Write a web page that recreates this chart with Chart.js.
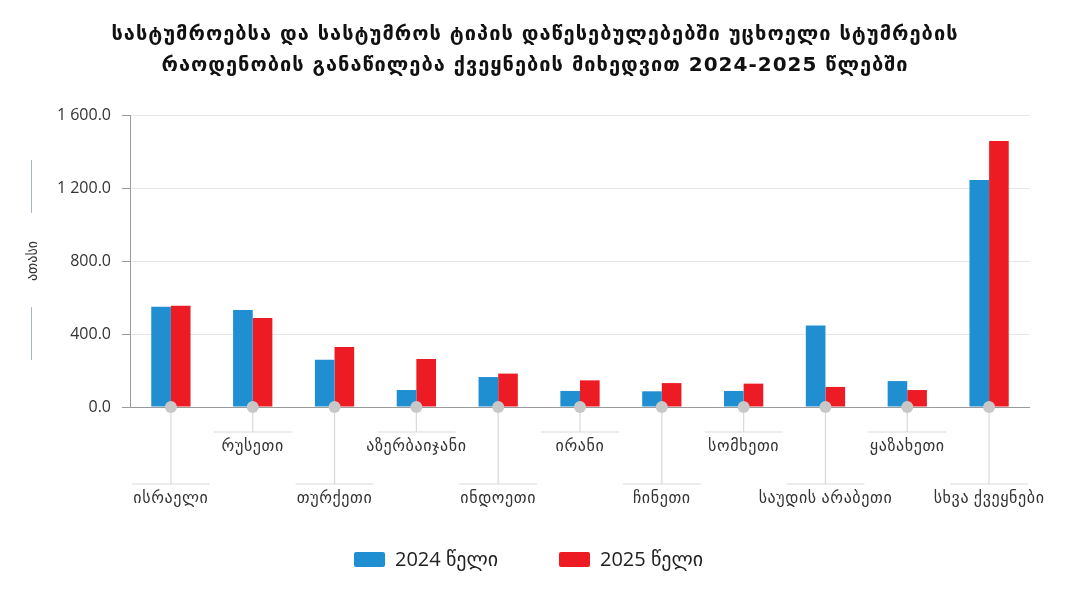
<!DOCTYPE html>
<html>
<head>
<meta charset="utf-8">
<script src="https://cdn.jsdelivr.net/npm/chart.js@4.4.1/dist/chart.umd.min.js"></script>
<style>
html,body{margin:0;padding:0;background:#fff;}
#wrap{width:1074px;height:590px;position:relative;}
</style>
</head>
<body>
<div id="wrap"><canvas id="c"></canvas></div>
<script>
const categories = ['ისრაელი','რუსეთი','თურქეთი','აზერბაიჯანი','ინდოეთი','ირანი','ჩინეთი','სომხეთი','საუდის არაბეთი','ყაზახეთი','სხვა ქვეყნები'];
const values2024 = [550, 531, 259, 93, 164, 88, 86, 88, 446, 142, 1244];
const values2025 = [555, 488, 329, 263, 183, 146, 131, 128, 110, 93, 1458];
const seriesNames = ['2024 წელი', '2025 წელი'];
const seriesColors = ['#1f8fd1', '#ed1c24'];
const titleLines = ['სასტუმროებსა და სასტუმროს ტიპის დაწესებულებებში უცხოელი სტუმრების', 'რაოდენობის განაწილება ქვეყნების მიხედვით 2024-2025 წლებში'];
const yTitle = 'ათასი';
const yTicks = [0, 400, 800, 1200, 1600];

const FONT = "'Open Sans', 'DejaVu Sans', sans-serif";

function fmt(v){
  const s = v.toFixed(1);
  const [i,d] = s.split('.');
  const ii = i.length > 3 ? i.slice(0, i.length-3) + ' ' + i.slice(-3) : i;
  return ii + '.' + d;
}

const decorPlugin = {
  id: 'decorPlugin',
  afterDraw(chart){
    const ctx = chart.ctx;
    const x = chart.scales.x, y = chart.scales.y;
    const area = chart.chartArea;
    const base = y.getPixelForValue(0);

    // Title
    ctx.save();
    ctx.fillStyle = '#111';
    ctx.font = "bold 20px 'DejaVu Sans', sans-serif";
    ctx.letterSpacing = '1px';
    ctx.textAlign = 'center';
    ctx.textBaseline = 'middle';
    ctx.fillText(titleLines[0], 535, 35);
    ctx.fillText(titleLines[1], 535, 66);
    ctx.restore();

    // y axis title with side lines
    ctx.save();
    const midY = (area.top + area.bottom)/2;
    ctx.strokeStyle = '#a9b6c4';
    ctx.lineWidth = 1;
    ctx.beginPath();
    ctx.moveTo(31.5, midY-101); ctx.lineTo(31.5, midY-48);
    ctx.moveTo(31.5, midY+46); ctx.lineTo(31.5, midY+99);
    ctx.stroke();
    ctx.translate(33, midY);
    ctx.rotate(-Math.PI/2);
    ctx.fillStyle = '#333';
    ctx.font = "14px " + FONT;
    ctx.textAlign = 'center';
    ctx.textBaseline = 'middle';
    ctx.fillText(yTitle, 0, 0);
    ctx.restore();

    // category labels with leader lines
    ctx.save();
    ctx.font = "16px " + FONT;
    ctx.letterSpacing = '0.6px';
    ctx.textAlign = 'center';
    ctx.textBaseline = 'middle';
    categories.forEach((c, i) => {
      const px = x.getPixelForValue(i);
      const upper = i % 2 === 1;
      const hy = upper ? base + 25 : base + 77;
      ctx.strokeStyle = '#d9d9d9';
      ctx.lineWidth = 1.2;
      ctx.beginPath();
      ctx.moveTo(px, base); ctx.lineTo(px, hy);
      ctx.moveTo(px-39, hy); ctx.lineTo(px+39, hy);
      ctx.stroke();
      ctx.fillStyle = '#333';
      ctx.fillText(c, px, hy + 14);
      ctx.fillStyle = '#c8c8c8';
      ctx.beginPath();
      ctx.arc(px, base, 6, 0, Math.PI*2);
      ctx.fill();
    });
    ctx.restore();

    // legend
    ctx.save();
    ctx.font = "20px " + FONT;
    ctx.textAlign = 'left';
    ctx.textBaseline = 'middle';
    const startX = [354, 559];
    chart.data.datasets.forEach((d, i) => {
      const bx = startX[i];
      ctx.fillStyle = d.backgroundColor;
      ctx.beginPath();
      if (ctx.roundRect) ctx.roundRect(bx, 552, 31, 15, 2); else ctx.rect(bx, 552, 31, 15);
      ctx.fill();
      ctx.fillStyle = '#222';
      ctx.fillText(d.label, bx + 41, 560);
    });
    ctx.restore();
  }
};

new Chart(document.getElementById('c'), {
  type: 'bar',
  data: {
    labels: categories,
    datasets: [
      { label: seriesNames[0], data: values2024, backgroundColor: seriesColors[0], borderWidth: 0 },
      { label: seriesNames[1], data: values2025, backgroundColor: seriesColors[1], borderWidth: 0 }
    ]
  },
  options: {
    responsive: true,
    maintainAspectRatio: false,
    animation: false,
    layout: { padding: { left: 0, right: 44, top: 115, bottom: 50 } },
    categoryPercentage: 0.48,
    barPercentage: 1.0,
    plugins: {
      title: { display: false },
      legend: { display: false },
      tooltip: { enabled: false }
    },
    scales: {
      x: {
        grid: { display: false },
        border: { display: false },
        ticks: { display: false },
        afterFit(s){ s.height = 133; }
      },
      y: {
        min: 0, max: 1600,
        afterFit(s){ s.width = 130; },
        afterBuildTicks(s){ s.ticks = yTicks.map(v => ({ value: v })); },
        ticks: {
          color: '#333',
          padding: 11,
          font: { family: FONT, size: 16 },
          callback: v => fmt(v)
        },
        grid: {
          color: ctx => ctx.tick && ctx.tick.value === 0 ? '#9a9a9a' : '#e6e6e6',
          tickColor: '#9a9a9a',
          tickLength: 8,
          lineWidth: 1
        },
        border: { display: true, color: '#9a9a9a' }
      }
    }
  },
  plugins: [decorPlugin]
});
</script>
</body>
</html>
